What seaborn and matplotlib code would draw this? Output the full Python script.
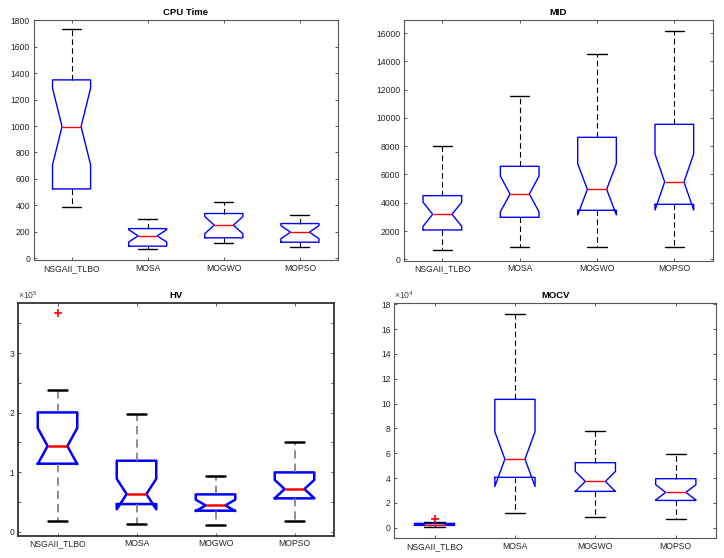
import numpy as np
import pandas as pd
import matplotlib
matplotlib.use("Agg")
import matplotlib.pyplot as plt
import seaborn as sns

# ---------------- data ----------------
methods = ["NSGAII_TLBO", "MOSA", "MOGWO", "MOPSO"]

cpu_low = [386, 68, 113, 88]
cpu_q1 = [524, 91, 154, 121]
cpu_med = [996, 169, 250, 197]
cpu_q3 = [1349, 224, 338, 262]
cpu_high = [1734, 295, 423, 330]
cpu_out = [None, None, None, None]

mid_low = [660, 895, 848, 895]
mid_q1 = [2074, 2969, 3464, 3888]
mid_med = [3181, 4618, 4948, 5467]
mid_q3 = [4500, 6574, 8624, 9543]
mid_high = [7988, 11522, 14515, 16117]
mid_out = [None, None, None, None]

# HV in units of 1e5
hv_low = [0.185, 0.134, 0.106, 0.179]
hv_q1 = [1.142, 0.464, 0.353, 0.560]
hv_med = [1.438, 0.632, 0.442, 0.716]
hv_q3 = [2.003, 1.192, 0.627, 0.996]
hv_high = [2.384, 1.975, 0.929, 1.500]
hv_out = [3.665, None, None, None]

# MOCV in units of 1e4
mocv_low = [0.05, 1.16, 0.86, 0.67]
mocv_q1 = [0.19, 4.06, 2.93, 2.20]
mocv_med = [0.26, 5.53, 3.73, 2.85]
mocv_q3 = [0.35, 10.34, 5.24, 3.95]
mocv_high = [0.43, 17.25, 7.82, 5.91]
mocv_out = [0.68, None, None, None]

n_runs = 20  # runs per algorithm (gives the notch widths seen in the figure)


def build(low, q1, med, q3, high, out):
    rows = []
    k = n_runs // 5
    for i, m in enumerate(methods):
        vals = [low[i]] * k + [q1[i]] * k + [med[i]] * k + [q3[i]] * k + [high[i]] * k
        if out[i] is not None:
            vals[-1] = out[i]
        rows += [(m, v) for v in vals]
    return pd.DataFrame(rows, columns=["method", "value"])


panels = [
    dict(title="CPU Time", df=build(cpu_low, cpu_q1, cpu_med, cpu_q3, cpu_high, cpu_out),
         ylim=(-16, 1806), ticks=np.arange(0, 1801, 200), labels=None, exp=None,
         rect=(33.5, 19.5, 338, 260.3), lw=1.0, wcol="black"),
    dict(title="MID", df=build(mid_low, mid_q1, mid_med, mid_q3, mid_high, mid_out),
         ylim=(-100, 16920), ticks=np.arange(0, 16001, 2000), labels=None, exp=None,
         rect=(403.7, 20, 713, 260.7), lw=1.0, wcol="black"),
    dict(title="HV", df=build(hv_low, hv_q1, hv_med, hv_q3, hv_high, hv_out),
         ylim=(-0.072, 3.845), ticks=np.arange(0, 3.51, 0.5),
         labels=["0", "", "1", "", "2", "", "3", ""], exp="5",
         rect=(18, 302.7, 334, 536), lw=1.8, wcol="#7a7a7a"),
    dict(title="MOCV", df=build(mocv_low, mocv_q1, mocv_med, mocv_q3, mocv_high, mocv_out),
         ylim=(-0.85, 18.1), ticks=np.arange(0, 18.1, 2), labels=None, exp="4",
         rect=(394.3, 303, 716, 538.3), lw=1.0, wcol="black"),
]

sns.set_style("white")
plt.rcParams["font.family"] = ["Liberation Sans", "DejaVu Sans"]
plt.rcParams["mathtext.fontset"] = "custom"
plt.rcParams["mathtext.rm"] = "Liberation Sans"
plt.rcParams["mathtext.it"] = "Liberation Sans"

W, H = 724, 558
fig = plt.figure(figsize=(W / 100, H / 100), dpi=100)
fig.patch.set_facecolor("white")

for p in panels:
    l, t, r, b = p["rect"]
    ax = fig.add_axes([l / W, 1 - b / H, (r - l) / W, (b - t) / H])
    lw = p["lw"]
    sns.boxplot(data=p["df"], x="method", y="value", order=methods, ax=ax,
                fill=False, width=0.5, notch=True, whis=1.5,
                linecolor="blue", linewidth=lw,
                boxprops=dict(color="blue", linewidth=lw),
                medianprops=dict(color="red", linewidth=lw),
                whiskerprops=dict(color=p["wcol"], linewidth=0.8 if lw < 1.5 else 1.2,
                                  linestyle=(0, (5, 3))),
                capprops=dict(color="black", linewidth=lw),
                flierprops=dict(marker="+", markeredgecolor="red", markerfacecolor="red",
                                markersize=6, markeredgewidth=1.2))
    cont = ax.containers[0]
    for bx in cont.boxes:
        bx.set_color("blue") if hasattr(bx, "set_color") else None
        try:
            bx.set_edgecolor("blue")
        except Exception:
            pass
    for ln in cont.medians:
        ln.set_color("red")
    for ln in cont.whiskers:
        ln.set_color(p["wcol"])
        ln.set_linestyle((0, (5, 3)))
    for ln in cont.caps:
        ln.set_color("black")
    for ln in cont.fliers:
        ln.set_marker("+")
        ln.set_markeredgecolor("red")
        ln.set_markerfacecolor("red")

    ax.set_xlim(-0.5, 3.5)
    ax.set_ylim(*p["ylim"])
    ax.set_yticks(p["ticks"])
    if p["labels"] is not None:
        ax.set_yticklabels(p["labels"])
    else:
        ax.set_yticklabels([f"{v:g}" for v in p["ticks"]])
    ax.set_xlabel("")
    ax.set_ylabel("")
    ax.set_title(p["title"], fontsize=6.8, fontweight="bold", pad=3.5, color="black")
    ax.tick_params(axis="both", which="both", direction="in", length=2.5, width=0.6,
                   colors="#404040", labelsize=6.2, labelcolor="#262626",
                   top=True, right=True, bottom=True, left=True, pad=2.5)
    for s in ax.spines.values():
        s.set_visible(True)
        s.set_color("#555555" if lw < 1.5 else "#333333")
        s.set_linewidth(0.8 if lw < 1.5 else 1.3)
    if p["exp"] is not None:
        ax.text(0.0, 1.008, r"$\times$10$^{%s}$" % p["exp"], transform=ax.transAxes,
                fontsize=6.2, ha="left", va="bottom", color="#404040")

fig.savefig("out.png", dpi=100)
